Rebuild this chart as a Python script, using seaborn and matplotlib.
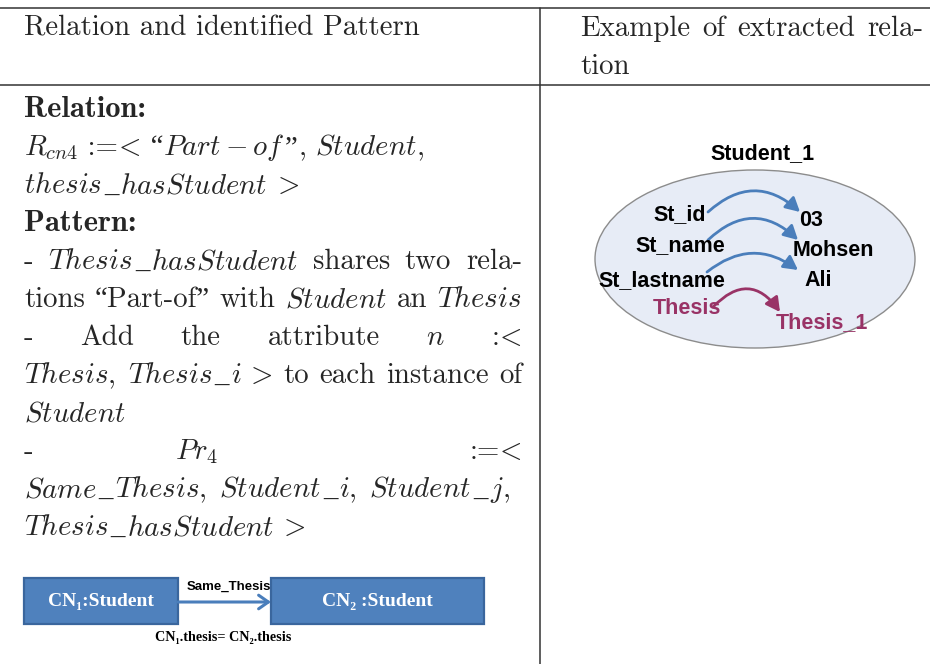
import matplotlib
matplotlib.use("Agg")
import matplotlib.pyplot as plt
from matplotlib.patches import Ellipse, Rectangle, FancyArrowPatch
import seaborn as sns

# ---------------- content ----------------
# a word is a string or a list of parts; a part is a string, (string, font)
# or a number (a small horizontal skip in px)
MI = "cmmi10"            # math italic, for the < > signs
US = "Liberation Serif"  # font for the low underscore


def mi(s):
    # math-italic identifier with TeX-like low underscores
    parts = []
    for k, piece in enumerate(s.split("_")):
        if k:
            parts += [2, ("_", US), 2]
        parts.append("$" + piece + "$")
    return parts


header_left = "Relation and identified Pattern"
header_right = ["Example", "of", "extracted", "rela-"]
header_right_2 = "tion"

left_rows = [
    ("bold", [["Relation:"]], False),
    ("text", [["$R_{cn4}$", " :=", ("<", MI), " “", "$Part-of$", "”", "$,\\,Student,$"]], False),
    ("text", [mi("thesis_hasStudent") + [" ", (">", MI)]], False),
    ("bold", [["Pattern:"]], False),
    ("text", ["-", mi("Thesis_hasStudent"), "shares", "two", "rela-"], True),
    ("text", ["tions", "“Part-of”", "with", "$Student$", "an", "$Thesis$"], True),
    ("text", ["-", "Add", "the", "attribute", "$n$", [":", ("<", MI)]], True),
    ("text", [mi("Thesis,\\;Thesis_i") + [" ", (">", MI)], "to", "each", "instance", "of"], True),
    ("text", [["$Student$"]], False),
    ("text", ["-", "$Pr_4$", [":=", ("<", MI)]], True),
    ("text", [mi("Same_Thesis,\\;Student_i,\\;Student_j,")], False),
    ("text", [mi("Thesis_hasStudent") + [" ", (">", MI)]], False),
]
# uneven stretch for the "Pr4" line (TeX glue)
row_gap_weights = {9: [1.0, 1.78]}

instance_name = "Student_1"
attr_names = ["St_id", "St_name", "St_lastname"]
attr_values = ["03", "Mohsen", "Ali"]
link_name = "Thesis"
link_value = "Thesis_1"

box_labels = ["CN\u2081:Student", "CN\u2082 :Student"]
edge_label = "Same_Thesis"
edge_condition = "CN\u2081.thesis= CN\u2082.thesis"

# ---------------- layout (pixel coords) ----------------
W, H = 930, 664
col_split = 540
rule_y = [8, 84.5]
left_x0, left_x1 = 24, 522
right_x0, right_x1 = 580, 923
row_base0, row_step = 117, 38

attr_name_pos = [(680, 215), (680, 246), (662, 281)]
attr_value_pos = [(811, 220), (833, 251), (818, 280)]
attr_arrows = [((708, 212), (800, 212), -0.45),
               ((708, 240), (798, 240), -0.47),
               ((707, 272), (798, 270), -0.38)]
link_arrow = ((713, 307), (780, 312), -0.6)

blue = "#4a7ebb"
purple = "#993366"
box_blue = "#4f81bd"

sns.set_theme(style="white")
plt.rcParams["mathtext.fontset"] = "cm"
plt.rcParams["font.family"] = ["cmr10", "Liberation Serif", "DejaVu Serif"]
plt.rcParams["axes.unicode_minus"] = False

fig = plt.figure(figsize=(W / 100, H / 100), dpi=100)
ax = fig.add_axes([0, 0, 1, 1])
ax.set_xlim(0, W)
ax.set_ylim(H, 0)
ax.axis("off")
renderer = fig.canvas.get_renderer()

txt_size = 20.8
bold_size = 22


def put_word(word, x, y, **kw):
    # draw the parts of one word side by side, return its width
    parts = word if isinstance(word, list) else [word]
    x_start = x
    for p in parts:
        if isinstance(p, (int, float)):
            x += p
            continue
        opts = dict(kw)
        if isinstance(p, tuple):
            p, fam = p
            opts["family"] = [fam, "DejaVu Serif"]
        t = ax.text(x, y, p, ha="left", va="baseline", **opts)
        x += t.get_window_extent(renderer).width
    return x - x_start


def put_row(words, y, x0, x1, justify, weights=None, **kw):
    widths = [put_word(w, 0, -100, **kw) for w in words]   # measure off-canvas
    for t in list(ax.texts):
        if t.get_position()[1] == -100:
            t.remove()
    gaps = [0.0] * (len(words) - 1)
    if justify and len(words) > 1:
        if weights is None:
            weights = [1.0] * (len(words) - 1)
        unit = ((x1 - x0) - sum(widths)) / sum(weights)
        gaps = [unit * g for g in weights]
    x = x0
    for i, w in enumerate(words):
        put_word(w, x, y, **kw)
        if i < len(gaps):
            x += widths[i] + gaps[i]


# table rules
for y in rule_y:
    ax.plot([0, W], [y, y], color="#333333", lw=1.1)
ax.plot([col_split, col_split], [rule_y[0], H], color="#333333", lw=1.1)

# headers
ax.text(left_x0, 36, header_left, ha="left", va="baseline", fontsize=txt_size)
put_row(header_right, 36, right_x0, right_x1, True, fontsize=txt_size)
ax.text(right_x0, 74, header_right_2, ha="left", va="baseline", fontsize=txt_size)

# left column body
for i, (style, words, just) in enumerate(left_rows):
    y = row_base0 + i * row_step
    kw = dict(fontsize=txt_size)
    if style == "bold":
        kw = dict(fontsize=bold_size, family=["cmb10", "DejaVu Serif"])
    put_row(words, y, left_x0, left_x1, just, row_gap_weights.get(i), **kw)

# ---- example diagram (right column) ----
ax.add_patch(Ellipse((755, 259), 320, 178, fc="#e7ecf6", ec="#8c8c8c", lw=1.0))
sans = dict(family=["Liberation Sans", "DejaVu Sans"], fontweight="bold", fontsize=15.5)
ax.text(762, 154, instance_name, ha="center", va="center", color="black", **sans)
for name, pos in zip(attr_names, attr_name_pos):
    ax.text(pos[0], pos[1], name, ha="center", va="center", color="black", **sans)
for val, pos in zip(attr_values, attr_value_pos):
    ax.text(pos[0], pos[1], val, ha="center", va="center", color="black", **sans)
ax.text(687, 308, link_name, ha="center", va="center", color=purple, **sans)
ax.text(822, 323, link_value, ha="center", va="center", color=purple, **sans)

for (a, b, r) in attr_arrows:
    ax.add_patch(FancyArrowPatch(a, b, connectionstyle=f"arc3,rad={r}",
                                 arrowstyle="-|>,head_length=0.65,head_width=0.35",
                                 mutation_scale=13, color=blue, lw=2.0,
                                 shrinkA=0, shrinkB=0))
a, b, r = link_arrow
ax.add_patch(FancyArrowPatch(a, b, connectionstyle=f"arc3,rad={r}",
                             arrowstyle="-|>,head_length=0.65,head_width=0.35",
                             mutation_scale=13, color=purple, lw=2.0,
                             shrinkA=0, shrinkB=0))

# ---- pattern diagram (left column bottom) ----
boxes = [(24, 578, 154, 46), (271, 578, 213, 46)]
for (x, y, w, h), lab in zip(boxes, box_labels):
    ax.add_patch(Rectangle((x, y), w, h, fc=box_blue, ec="#3a669d", lw=1.6))
    ax.text(x + w / 2, y + h / 2 + 1, lab, ha="center", va="center", color="white",
            family=["Liberation Serif", "DejaVu Serif"], fontweight="bold", fontsize=14)
ax.add_patch(FancyArrowPatch((178, 602), (271, 602),
                             arrowstyle="->,head_length=0.5,head_width=0.35",
                             mutation_scale=14, color=blue, lw=2.2,
                             shrinkA=0, shrinkB=0))
ax.text(229, 587, edge_label, ha="center", va="center", color="black",
        family=["Liberation Sans", "DejaVu Sans"], fontweight="bold", fontsize=9.5)
ax.text(223, 638, edge_condition, ha="center", va="center", color="black",
        family=["Liberation Serif", "DejaVu Serif"], fontweight="bold", fontsize=10.2)

fig.savefig("out.png", dpi=100)
